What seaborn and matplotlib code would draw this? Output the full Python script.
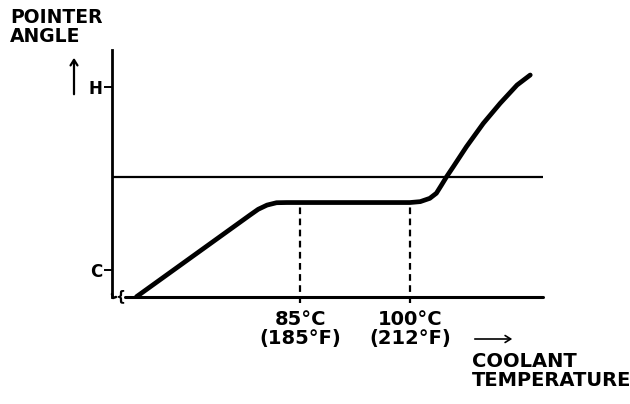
import numpy as np
import pandas as pd
import matplotlib
matplotlib.use("Agg")
import matplotlib.pyplot as plt
import seaborn as sns

# ------------------------------
# Data: coolant temperature (deg C) vs. gauge pointer angle (C = 0, H = 100)
# ------------------------------
temp_c = [62.7, 78.2, 79.3, 80.5, 81.8, 83.2, 85.0, 100.0, 101.4, 102.7,
          103.6, 104.3, 105.0, 105.9, 107.7, 110.0, 112.3, 114.6, 116.4]
pointer = [-14.9, 29.9, 33.0, 35.3, 36.6, 36.7, 36.7, 36.7, 37.2, 39.0,
           41.8, 46.3, 50.9, 56.3, 67.3, 80.1, 91.1, 101.1, 106.6]
marked_temps = [85, 100]
marked_labels = ["85°C\n(185°F)", "100°C\n(212°F)"]
plateau_level = 36.7
mid_level = 50.9
tick_pos = [0, 100]
tick_labels = ["C", "H"]

df = pd.DataFrame({"temp": temp_c, "angle": pointer})

sns.set_style("white")
plt.rcParams["font.family"] = ["DejaVu Sans"]
plt.rcParams["text.color"] = "black"

W, H = 630, 404
fig = plt.figure(figsize=(W / 100, H / 100), dpi=100)


def px(x, y):
    # pixel position -> figure fraction
    return x / W, 1 - y / H


# axes box placed so the axis sits where the reference draws it
ax = fig.add_axes([112 / W, (H - 297) / H, 431 / W, 247 / H])
ax.set_xlim(59.36, 118.14)
ax.set_ylim(-15.07, 120.3)

sns.lineplot(data=df, x="temp", y="angle", color="black", lw=3.4,
             sort=False, estimator=None, ax=ax)
ax.lines[0].set_solid_capstyle("round")
ax.lines[0].set_solid_joinstyle("round")

# reference lines
ax.axhline(mid_level, color="black", lw=1.6)
ax.axhline(-15.07, xmin=0.03, xmax=1, color="black", lw=2.2, clip_on=False)
ax.vlines(marked_temps, -18.5, plateau_level, colors="black", lw=1.6,
          linestyles=(0, (3, 2)), clip_on=False)

# spines / ticks
for s in ["top", "right", "bottom"]:
    ax.spines[s].set_visible(False)
ax.spines["left"].set_linewidth(2.0)
ax.spines["left"].set_color("black")
ax.set_xticks([])
ax.set_yticks(tick_pos)
ax.set_yticklabels(tick_labels, fontsize=12, fontweight="bold", color="black")
ax.tick_params(axis="y", left=True, length=6, width=1.4, pad=1, color="black")
ax.set_xlabel("")
ax.set_ylabel("")
ax.patch.set_alpha(0)

# axis break mark: hook at the foot of the axis plus a brace
fig.add_artist(plt.Line2D([112 / W, 113 / W, 116 / W],
                          [1 - 294 / H, 1 - 298 / H, 1 - 297 / H],
                          color="black", lw=1.8, transform=fig.transFigure))
fig.text(*px(120, 296), "{", fontsize=10, fontweight="bold",
         ha="center", va="center")

# x annotations
for t, lab in zip(marked_temps, marked_labels):
    ax.text(t, -22, lab, ha="center", va="top", fontsize=14,
            fontweight="bold", linespacing=1.05, color="black")

fig.text(*px(10, 8), "POINTER\nANGLE", fontsize=13.5, fontweight="bold",
         ha="left", va="top", linespacing=1.0)
fig.text(*px(472, 352), "COOLANT\nTEMPERATURE", fontsize=14,
         fontweight="bold", ha="left", va="top", linespacing=1.0)

# arrows
fig.add_artist(matplotlib.patches.FancyArrowPatch(
    px(74, 97), px(74, 55), transform=fig.transFigure,
    arrowstyle="->,head_length=4,head_width=2.5", lw=1.6, color="black"))
fig.add_artist(matplotlib.patches.FancyArrowPatch(
    px(472, 339), px(515, 339), transform=fig.transFigure,
    arrowstyle="->,head_length=4,head_width=2.5", lw=1.2, color="black"))

plt.savefig("out.png", dpi=100)
